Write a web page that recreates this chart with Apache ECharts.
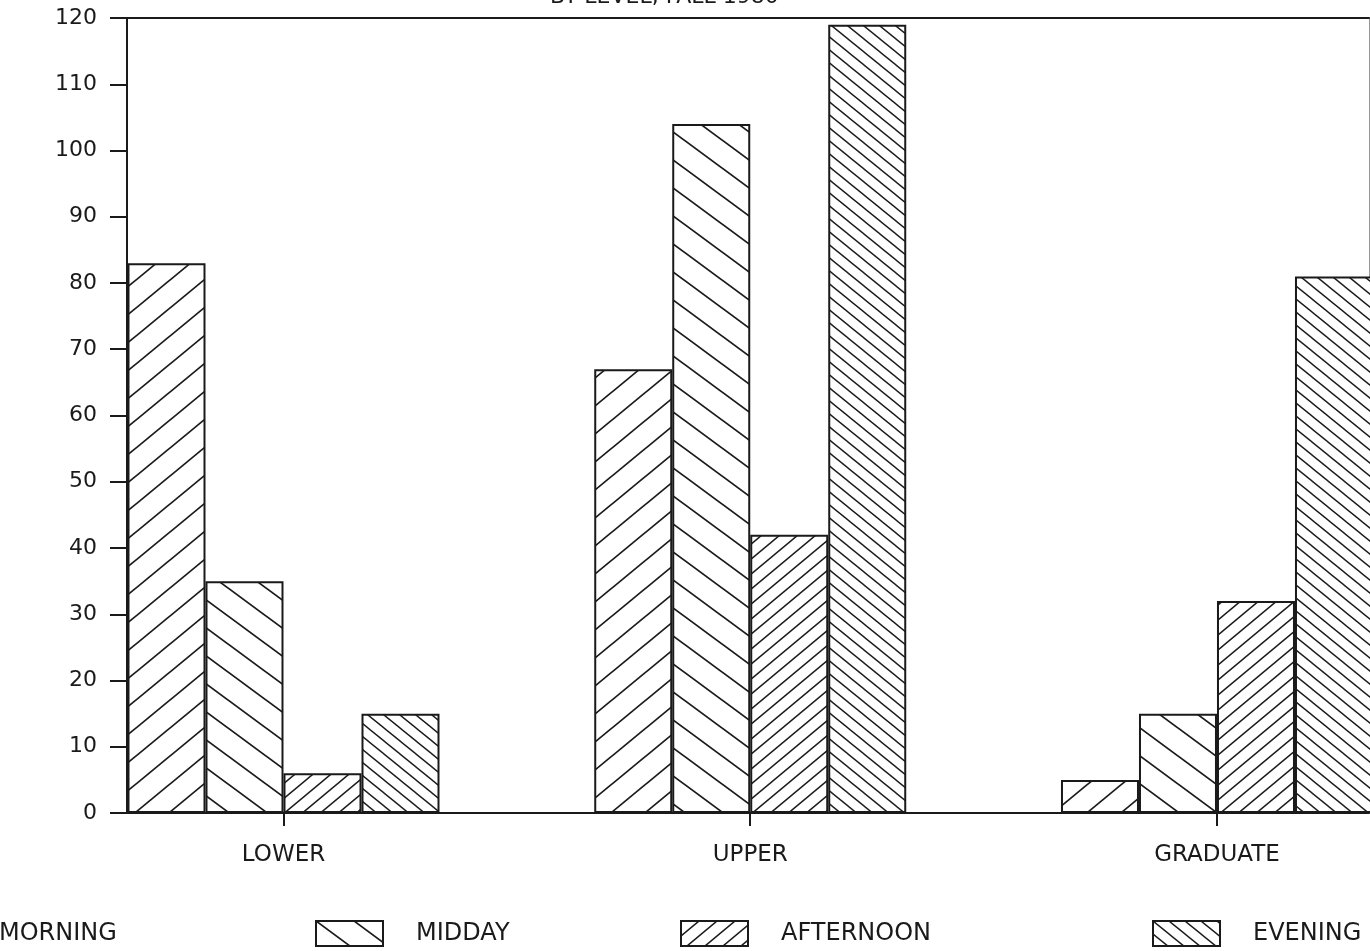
<!DOCTYPE html>
<html>
<head>
<meta charset="utf-8">
<script src="https://cdn.jsdelivr.net/npm/echarts@6/dist/echarts.min.js"></script>
<style>
html,body{margin:0;padding:0;background:#fff;}
#chart{width:1370px;height:951px;}
</style>
</head>
<body>
<div id="chart"></div>
<script>
// ---- data ----
const categories = ['LOWER', 'UPPER', 'GRADUATE'];
const seriesNames = ['MORNING', 'MIDDAY', 'AFTERNOON', 'EVENING'];
const morning   = [83, 67, 5];
const midday    = [35, 104, 15];
const afternoon = [6, 42, 32];
const evening   = [15, 119, 81];
const yTickValues = [0, 10, 20, 30, 40, 50, 60, 70, 80, 90, 100, 110, 120];
const titleText = 'BY LEVEL, FALL 1980';

// ---- hatch patterns ----
function makeHatch(dir, w, h, lw) {
  const c = document.createElement('canvas');
  c.width = w; c.height = h;
  const ctx = c.getContext('2d');
  ctx.fillStyle = '#ffffff';
  ctx.fillRect(0, 0, w, h);
  ctx.strokeStyle = '#1a1a1a';
  ctx.lineWidth = lw;
  for (let k = -1; k <= 1; k++) {
    const ox = k * w;
    ctx.beginPath();
    if (dir === '/') {
      ctx.moveTo(ox - w, 2 * h);
      ctx.lineTo(ox + 2 * w, -h);
    } else {
      ctx.moveTo(ox - w, -h);
      ctx.lineTo(ox + 2 * w, 2 * h);
    }
    ctx.stroke();
  }
  return { image: c, repeat: 'repeat' };
}

const patterns = [
  makeHatch('/', 34, 28, 1.7),
  makeHatch('\\', 38, 28, 1.7),
  makeHatch('/', 18, 15, 1.5),
  makeHatch('\\', 16, 13, 1.4)
];
const seriesValues = [morning, midday, afternoon, evening];

const font = 'DejaVu Sans';
const ink = '#1a1a1a';

// x value scale: category i sits at value i
const xMin = -0.3353;
const xMax = 2.3257;

const series = seriesNames.map((name, s) => ({
  name: name,
  type: 'bar',
  barWidth: 78,
  barGap: '0%',
  clip: true,
  data: categories.map((c, i) => [i, seriesValues[s][i]]),
  itemStyle: {
    color: patterns[s],
    borderColor: ink,
    borderWidth: 2
  },
  emphasis: { disabled: true }
}));

const legendPos = [-102, 315, 680, 1152];
const legends = seriesNames.map((name, s) => ({
  data: [name],
  left: legendPos[s],
  top: 920,
  padding: 0,
  itemWidth: 67,
  itemHeight: 25,
  selectedMode: false,
  icon: 'rect',
  textStyle: {
    fontFamily: font,
    fontSize: 24,
    color: ink,
    padding: [0, 0, 0, 28]
  }
}));

const chart = echarts.init(document.getElementById('chart'), null, { renderer: 'canvas' });
chart.setOption({
  animation: false,
  backgroundColor: '#ffffff',
  title: {
    text: titleText,
    left: 545,
    top: -19,
    textStyle: { fontFamily: font, fontSize: 22, fontWeight: 'normal', color: ink }
  },
  legend: legends,
  grid: { left: 127, right: 1, top: 18, bottom: 138, containLabel: false },
  xAxis: [
    {
      type: 'value',
      min: xMin,
      max: xMax,
      position: 'bottom',
      axisLine: { show: true, onZero: false, lineStyle: { color: ink, width: 2 } },
      axisTick: {
        show: true, inside: false, length: 13,
        customValues: [0, 1, 2],
        lineStyle: { color: ink, width: 2 }
      },
      axisLabel: {
        show: true,
        customValues: [0, 1, 2],
        formatter: (v) => categories[Math.round(v)] || '',
        margin: 31,
        fontFamily: font,
        fontSize: 23,
        color: ink
      },
      splitLine: { show: false }
    },
    {
      type: 'value',
      min: xMin,
      max: xMax,
      position: 'top',
      axisLine: { show: true, onZero: false, lineStyle: { color: ink, width: 2 } },
      axisTick: { show: false },
      axisLabel: { show: false },
      splitLine: { show: false }
    }
  ],
  yAxis: [
    {
      type: 'value',
      min: 0,
      max: 120,
      interval: 10,
      position: 'left',
      axisLine: { show: true, onZero: false, lineStyle: { color: ink, width: 2 } },
      axisTick: { show: true, inside: false, length: 17, lineStyle: { color: ink, width: 2 } },
      axisLabel: {
        margin: 30,
        fontFamily: font,
        fontSize: 22,
        color: ink
      },
      splitLine: { show: false }
    },
    {
      type: 'value',
      min: 0,
      max: 120,
      position: 'right',
      axisLine: { show: true, onZero: false, lineStyle: { color: '#999', width: 1 } },
      axisTick: { show: false },
      axisLabel: { show: false },
      splitLine: { show: false }
    }
  ],
  series: series
});
</script>
</body>
</html>
